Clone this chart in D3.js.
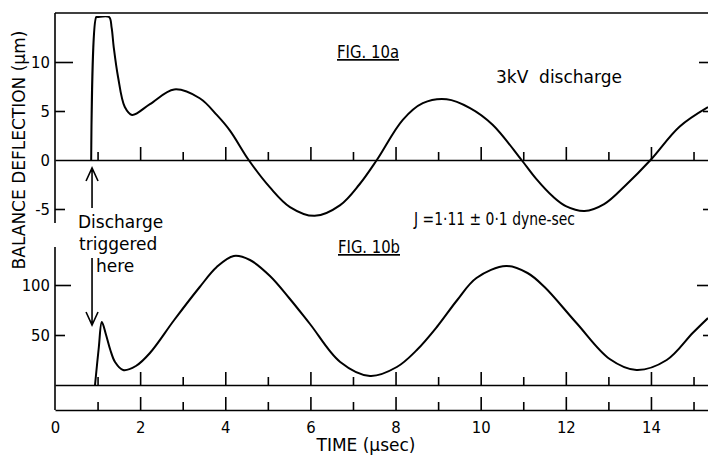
<!DOCTYPE html>
<html>
<head>
<meta charset="utf-8">
<script src="https://cdn.jsdelivr.net/npm/d3@7"></script>
<style>
  body { margin: 0; background: #fff; }
  text { fill: #000; font-family: "DejaVu Sans", sans-serif; }
  .num text, text.num { font-family: "Liberation Sans Narrow", "DejaVu Sans Condensed", "Liberation Sans", sans-serif; font-size: 16.5px; }
  .axis path, .axis line { stroke: #000; stroke-width: 1.6px; }
  .curve { fill: none; stroke: #000; stroke-width: 2px; }
</style>
</head>
<body>
<div id="chart"></div>
<script>
// FIG 10a : balance deflection (um) after a 3kV discharge
var timeA = [0.85, 0.97, 1.0, 1.27, 1.33, 1.38, 1.48, 1.64, 1.81, 2.23, 2.8, 3.4, 3.8, 4.11, 4.55,
             5.05, 5.52, 6.1, 6.7, 7.15, 7.56, 8.17, 8.64, 9.2, 9.75, 10.28, 10.96,
             11.3, 11.69, 12.0, 12.44, 12.9, 13.4, 13.99, 14.67, 15.34];
var deflA = [0, 14.6, 14.6, 14.6, 13.5, 11.5, 8.5, 5.4, 4.6, 5.7, 7.2, 6.3, 4.6, 3.0, 0,
             -2.8, -4.8, -5.7, -4.6, -2.5, 0, 4.1, 5.8, 6.2, 5.3, 3.6, 0,
             -1.9, -3.7, -4.7, -5.2, -4.5, -2.6, 0, 3.4, 5.4];

// FIG 10b
var timeB = [0.94, 1.03, 1.1, 1.2, 1.3, 1.41, 1.6, 1.9, 2.23, 2.8, 3.4, 3.8, 4.2, 4.58,
             5.05, 5.5, 5.99, 6.7, 7.4, 8.03, 8.5, 8.97, 9.45, 9.9, 10.6, 11.1,
             11.5, 12.25, 13.03, 13.66, 14.37, 14.98, 15.34];
var deflB = [0, 38, 63, 50, 35, 23, 15, 19, 32, 65, 98, 118, 129, 125,
             109, 87, 61, 23, 9, 18, 35, 58, 85, 107, 119, 112,
             98, 62, 26, 15, 25, 52, 67];

var timeLabels = [0, 2, 4, 6, 8, 10, 12, 14];
var minorTime = [1, 3, 5, 7, 9, 11, 13, 15];
var majorTime = [2, 4, 6, 8, 10, 12, 14];
var ticksA = [-5, 0, 5, 10];
var ticksB = [50, 100];
var triggerT = 0.87;

var W = 708, H = 455;
var svg = d3.select("#chart").append("svg")
    .attr("width", W)
    .attr("height", H);

var x = d3.scaleLinear().domain([0, 15.34]).range([55, 708]);
var yA = d3.scaleLinear().domain([-5, 10]).range([209, 62]);
var yB = d3.scaleLinear().domain([0, 100]).range([385, 285]);

var topY = 13, botAxisY = 410;

// keep the saturated trace inside the frame
svg.append("clipPath").attr("id", "clipA")
  .append("rect").attr("x", 0).attr("y", yA(14.6) - 1).attr("width", W).attr("height", H);

// frame lines
var frame = svg.append("g").attr("class", "axis");
frame.append("line").attr("x1", x(0)).attr("x2", W).attr("y1", topY).attr("y2", topY);
frame.append("line").attr("x1", x(0)).attr("x2", x(0)).attr("y1", topY).attr("y2", 223);
frame.append("line").attr("x1", x(0)).attr("x2", x(0)).attr("y1", 247).attr("y2", botAxisY);

// time ticks on the three horizontal lines
function timeLine(yPos) {
  svg.append("g").attr("class", "axis")
    .attr("transform", "translate(0," + yPos + ")")
    .call(d3.axisTop(x).tickValues(majorTime).tickSize(13).tickSizeOuter(0).tickFormat(""));
  svg.append("g").attr("class", "axis")
    .attr("transform", "translate(0," + yPos + ")")
    .call(d3.axisTop(x).tickValues(minorTime).tickSize(8).tickFormat(""))
    .select(".domain").remove();
}
timeLine(yA(0));
timeLine(yB(0));
timeLine(botAxisY);

// time labels
var xl = svg.append("g").attr("class", "axis num")
  .attr("transform", "translate(0," + botAxisY + ")")
  .call(d3.axisBottom(x).tickValues(timeLabels).tickSize(0).tickPadding(11));
xl.select(".domain").remove();

// left axes (ticks point inside)
function leftTicks(scale, vals, size) {
  svg.append("g").attr("class", "axis")
    .attr("transform", "translate(" + x(0) + ",0)")
    .call(d3.axisLeft(scale).tickValues(vals).tickSize(-size).tickFormat(""))
    .select(".domain").remove();
}
function rightTicks(scale, vals, size) {
  svg.append("g").attr("class", "axis")
    .attr("transform", "translate(" + W + ",0)")
    .call(d3.axisRight(scale).tickValues(vals).tickSize(-size).tickFormat(""))
    .select(".domain").remove();
}
leftTicks(yA, [10], 18);
leftTicks(yA, [5, -5], 10);
leftTicks(yB, [100], 16);
leftTicks(yB, [50], 10);
rightTicks(yA, [10], 9);
rightTicks(yA, [5, -5], 5);
rightTicks(yB, [100], 11);
rightTicks(yB, [50], 5);

function leftLabels(scale, vals) {
  var g = svg.append("g").attr("class", "axis num")
    .attr("transform", "translate(" + x(0) + ",0)")
    .call(d3.axisLeft(scale).tickValues(vals).tickSize(0).tickPadding(5)
      .tickFormat(function(d){ return d < 0 ? "-" + Math.abs(d) : d; }));
  g.select(".domain").remove();
}
leftLabels(yA, ticksA);
leftLabels(yB, ticksB);

// curves
var lineA = d3.line()
  .x(function(d){ return x(d[0]); })
  .y(function(d){ return yA(d[1]); })
  .curve(d3.curveCatmullRom.alpha(0.5));
var lineB = d3.line()
  .x(function(d){ return x(d[0]); })
  .y(function(d){ return yB(d[1]); })
  .curve(d3.curveCatmullRom.alpha(0.5));

svg.append("path").attr("class", "curve")
  .attr("clip-path", "url(#clipA)")
  .attr("d", lineA(d3.zip(timeA, deflA)));
svg.append("path").attr("class", "curve")
  .attr("d", lineB(d3.zip(timeB, deflB)));

// arrows
var ax = x(triggerT);
var arrows = svg.append("g").attr("fill", "none").attr("stroke", "#000").attr("stroke-width", 1.6);
arrows.append("path").attr("d", "M" + ax + ",208V168M" + (ax - 6) + ",181L" + ax + ",168L" + (ax + 6) + ",181");
arrows.append("path").attr("d", "M" + ax + ",258V325M" + (ax - 6) + ",312L" + ax + ",325L" + (ax + 6) + ",312");

// annotations
svg.append("text").attr("x", 78).attr("y", 228).style("font-size", "17px").text("Discharge");
svg.append("text").attr("x", 79).attr("y", 250).style("font-size", "17px").text("triggered");
svg.append("text").attr("x", 96).attr("y", 272).style("font-size", "17px").text("here");

svg.append("text").attr("x", 368).attr("y", 58).attr("text-anchor", "middle")
  .style("font-size", "17px").style("text-decoration", "underline")
  .attr("textLength", 62).attr("lengthAdjust", "spacingAndGlyphs").text("FIG. 10a");
svg.append("text").attr("x", 369).attr("y", 253).attr("text-anchor", "middle")
  .style("font-size", "17px").style("text-decoration", "underline")
  .attr("textLength", 62).attr("lengthAdjust", "spacingAndGlyphs").text("FIG. 10b");
svg.append("text").attr("x", 496).attr("y", 83).style("font-size", "17px")
  .style("white-space", "pre").text("3kV  discharge");
svg.append("text").attr("x", 414).attr("y", 225).style("font-size", "17px")
  .attr("textLength", 161).attr("lengthAdjust", "spacingAndGlyphs")
  .text("J =1\u00b711 \u00b1 0\u00b71 dyne-sec");

// axis titles
svg.append("text").attr("x", 366).attr("y", 451).attr("text-anchor", "middle")
  .style("font-size", "17px").text("TIME (\u03bcsec)");
svg.append("text")
  .attr("transform", "translate(25,150) rotate(-90)")
  .attr("text-anchor", "middle")
  .style("font-size", "17px")
  .text("BALANCE DEFLECTION (\u03bcm)");
</script>
</body>
</html>
